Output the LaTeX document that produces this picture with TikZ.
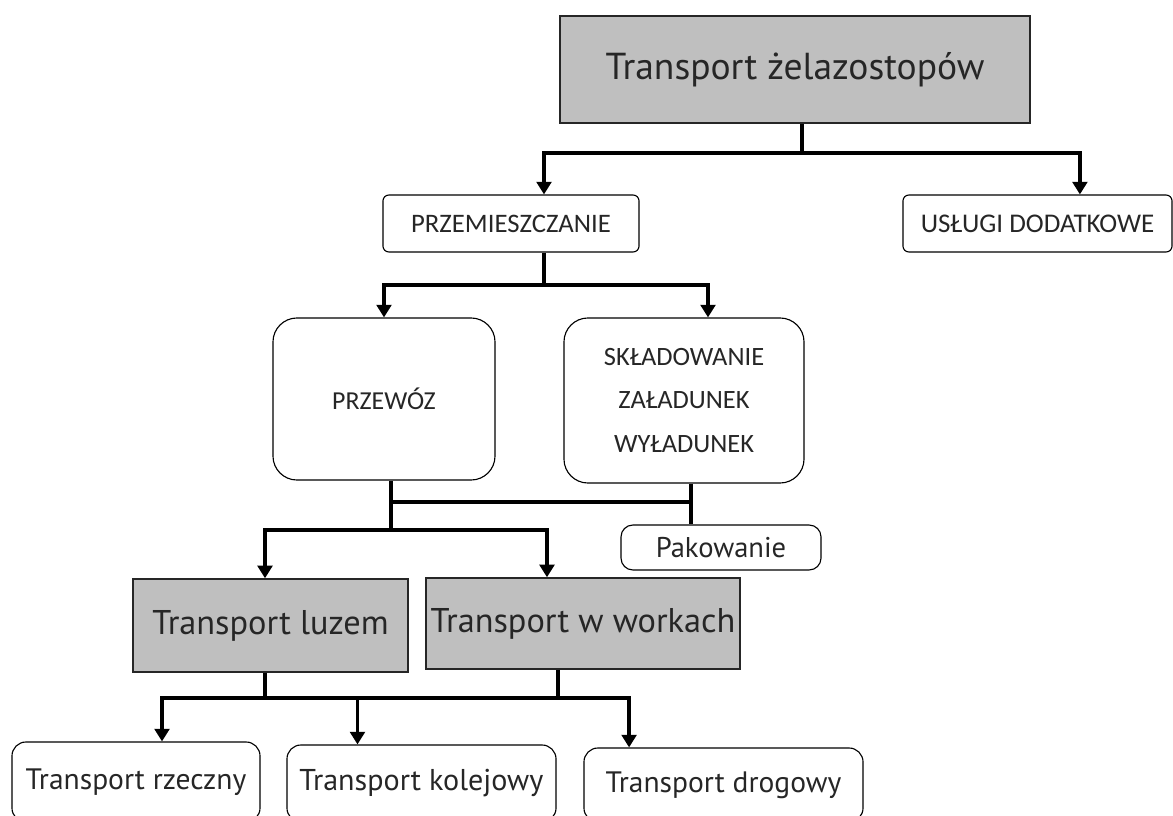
\documentclass[tikz,border=0pt]{standalone}
\usepackage{fontspec}
\setmainfont{PT Sans}
\newfontfamily\capsfont{Carlito}
\usepackage{tikz}
\usetikzlibrary{arrows.meta}
\definecolor{boxgray}{HTML}{BFBFBF}

\begin{document}
\begin{tikzpicture}[x=0.025cm, y=-0.025cm,
        % Define the styles for boxes and connectors
        graybox/.style={draw=black!85, line width=1pt, fill=boxgray, text=black!85, inner sep=2pt},
        roundbox/.style={draw, line width=0.8pt, rounded corners=#1, text=black!85, inner sep=2pt},
        roundbox/.default=0.15cm,
        link/.style={line width=2.8pt},
        arrow/.style={link, -{Triangle[width=10.5pt,length=9pt]}}]

        \clip (0,0) rectangle (1173,816);

        % 1. The boxes
        \node[graybox, minimum width=11.75cm, minimum height=2.675cm,
              font=\fontsize{26.7}{32}\selectfont] (top) at (795,69.5) {Transport żelazostopów};
        \node[roundbox, minimum width=6.4cm, minimum height=1.425cm,
              font=\capsfont\fontsize{19}{22}\selectfont] (przem) at (511,223.5) {PRZEMIESZCZANIE};
        \node[roundbox, minimum width=6.725cm, minimum height=1.425cm,
              font=\capsfont\fontsize{19.2}{22}\selectfont] (uslugi) at (1037.5,223.5) {USŁUGI DODATKOWE};
        \node[roundbox=0.6cm, minimum width=5.55cm, minimum height=4.05cm,
              font=\capsfont\fontsize{18.4}{22}\selectfont] (przewoz) at (384,399) {PRZEWÓZ};
        \node[roundbox=0.6cm, minimum width=6cm, minimum height=4.125cm, align=center,
              font=\capsfont\fontsize{18.8}{30.6}\selectfont] (sklad) at (684,400.5)
              {SKŁADOWANIE\\ZAŁADUNEK\\WYŁADUNEK};
        \node[roundbox=0.3cm, minimum width=5cm, minimum height=1.125cm,
              font=\fontsize{20.3}{24}\selectfont] (pakow) at (721,547.5) {Pakowanie};
        \node[graybox, minimum width=6.875cm, minimum height=2.325cm,
              font=\fontsize{24.4}{28}\selectfont] (luzem) at (270.5,625.5) {Transport luzem};
        \node[graybox, minimum width=7.85cm, minimum height=2.275cm,
              font=\fontsize{24.4}{28}\selectfont] (workach) at (583,623.5) {Transport w workach};
        \node[roundbox=0.35cm, minimum width=6.2cm, minimum height=2cm,
              font=\fontsize{21}{24}\selectfont] (rzeczny) at (136,782) {Transport rzeczny};
        \node[roundbox=0.35cm, minimum width=6.725cm, minimum height=1.925cm,
              font=\fontsize{21.4}{24}\selectfont] (kolejowy) at (421.5,783.5) {Transport kolejowy};
        \node[roundbox=0.35cm, minimum width=6.975cm, minimum height=1.85cm,
              font=\fontsize{21}{24}\selectfont] (drogowy) at (723.5,785) {Transport drogowy};

        % 2. The junctions of the connectors
        \coordinate (t0) at (802,153);
        \coordinate (t1) at (544,285);
        \coordinate (t2) at (391,502);
        \coordinate (t2r) at (691,502);
        \coordinate (t3) at (391,530);
        \coordinate (t4) at (265,698);
        \coordinate (t5) at (558,698);

        % 3. Draw the connectors
        \draw[link] (top.south -| t0) -- (t0);
        \draw[arrow] (t0) -| (przem.north -| t1);
        \draw[arrow] (t0) -| ([xshift=1.06cm]uslugi.north);

        \draw[link] (przem.south -| t1) -- (t1);
        \draw[arrow] (t1) -| (przewoz.north);
        \draw[arrow] (t1) -| ([xshift=0.6cm]sklad.north);

        \draw[link] (przewoz.south -| t2) -- (t3);
        \draw[link] (t2) -- (t2r);
        \draw[link] (sklad.south -| t2r) -- (pakow.north -| t2r);
        \draw[arrow] (t3) -| (luzem.north -| t4);
        \draw[arrow] (t3) -| ([xshift=-0.9cm]workach.north);

        \draw[link] (luzem.south -| t4) -- (t4);
        \draw[link] (workach.south -| t5) -- (t5);
        \draw[link] (t4) -- (t5);
        \draw[arrow] (t4) -| ([xshift=0.65cm]rzeczny.north);
        \draw[arrow] (t4) -| ([xshift=-1.6cm]kolejowy.north);
        \draw[arrow] (t5) -| ([xshift=-2.36cm]drogowy.north);
    \end{tikzpicture}
\end{document}
